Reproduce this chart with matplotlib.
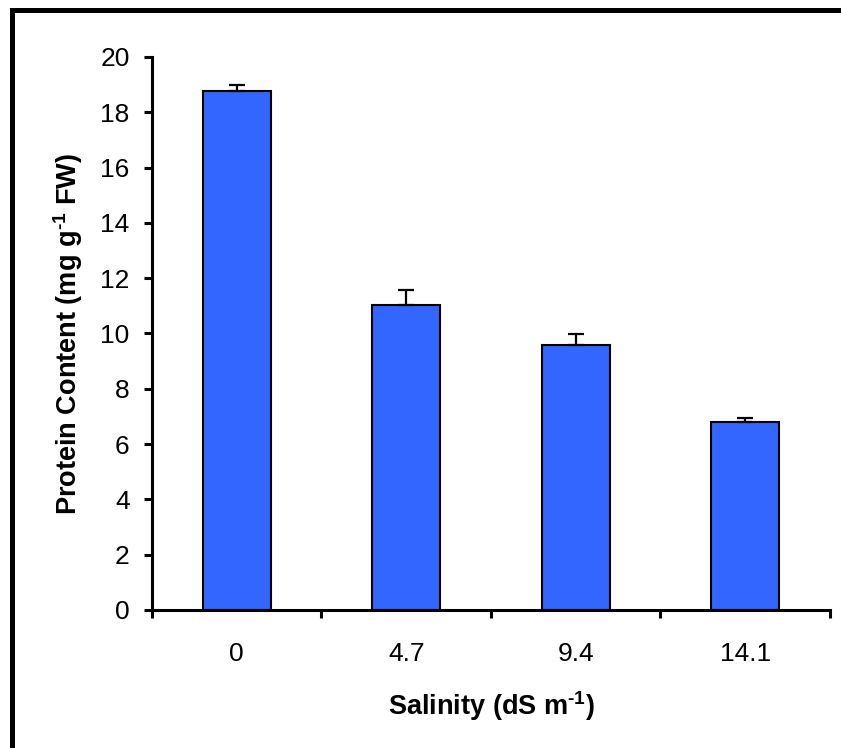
import numpy as np
import matplotlib.pyplot as plt
from matplotlib.lines import Line2D

plt.rcParams['font.family'] = ['Liberation Sans', 'DejaVu Sans']
plt.rcParams['mathtext.fontset'] = 'custom'
plt.rcParams['mathtext.rm'] = 'Liberation Sans:bold'
plt.rcParams['mathtext.bf'] = 'Liberation Sans:bold'
plt.rcParams['mathtext.default'] = 'bf'

# data
salinity = ['0', '4.7', '9.4', '14.1']
protein = [18.78, 11.04, 9.58, 6.79]
protein_err = [0.22, 0.52, 0.40, 0.14]

fig = plt.figure(figsize=(8.41, 7.48), dpi=100)
ax = fig.add_axes([0.1807, 0.1845, 0.8062, 0.7393])

x = np.arange(len(salinity))
ax.bar(x, protein, width=0.4, color='#3366FF', edgecolor='black', linewidth=1.5, zorder=2)
ax.errorbar(x, protein, yerr=[np.zeros(len(protein)), protein_err], fmt='none',
            ecolor='black', elinewidth=1.6, capsize=6, capthick=1.6, zorder=3)

ax.set_xlim(-0.5, 3.5)
ax.set_ylim(0, 20)
ax.set_yticks(np.arange(0, 21, 2))
ax.set_xticks(np.arange(-0.5, 4, 1))
ax.set_xticklabels([])
ax.set_xticks(x, minor=True)
ax.set_xticklabels(salinity, minor=True)

for s in ['top', 'right']:
    ax.spines[s].set_visible(False)
for s in ['left', 'bottom']:
    ax.spines[s].set_linewidth(2.2)

ax.tick_params(axis='both', which='major', direction='out', length=6, width=2.2,
               labelsize=19)
ax.tick_params(axis='y', pad=10)
ax.tick_params(axis='x', which='minor', length=0, labelsize=19, pad=23)

ax.set_xlabel(r'Salinity (dS m$^{\text{-}1}$)', fontsize=19.5, fontweight='bold', labelpad=17)
ax.set_ylabel(r'Protein Content (mg g$^{\text{-}1}$ FW)', fontsize=19.5, fontweight='bold',
              labelpad=11)

# outer frame (left and top edges visible in the original)
fig.add_artist(Line2D([0.0137, 0.0137], [0, 0.9866], color='black', linewidth=3.6,
                      transform=fig.transFigure))
fig.add_artist(Line2D([0.0137, 1.0], [0.9866, 0.9866], color='black', linewidth=3.6,
                      transform=fig.transFigure, solid_capstyle='projecting'))

plt.savefig('out.png', dpi=100)
